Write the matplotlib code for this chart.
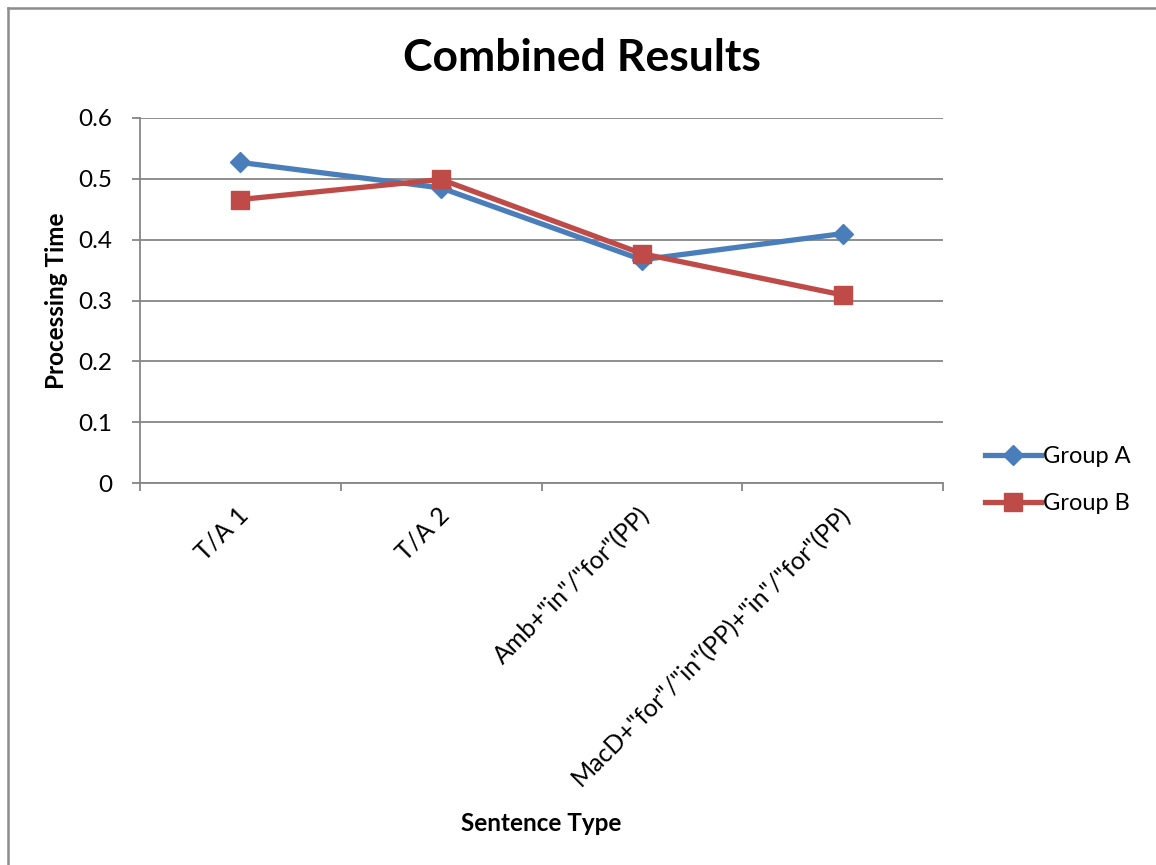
import matplotlib.pyplot as plt
from matplotlib.lines import Line2D
from matplotlib import transforms

plt.rcParams['font.family'] = ['Lato', 'DejaVu Sans']

# DATA
sentence_types = ['T/A 1', 'T/A 2', 'Amb+"in"/"for"(PP)', 'MacD+"for"/"in"(PP)+"in"/"for"(PP)']
group_a = [0.527, 0.485, 0.367, 0.410]
group_b = [0.466, 0.499, 0.377, 0.309]
y_ticks = [0, 0.1, 0.2, 0.3, 0.4, 0.5, 0.6]

blue = '#4A7EBB'
red = '#BE4B48'
grid_col = '#868686'

fig = plt.figure(figsize=(11.56, 8.65), dpi=100)

# chart frame: only the left and top edges fall inside the image
frame_x = 7.5 / 1156
frame_y = 1 - 7.5 / 865
fig.lines.append(Line2D([frame_x, frame_x], [0, frame_y], transform=fig.transFigure,
                        color='#8c8c8c', linewidth=1.8))
fig.lines.append(Line2D([frame_x, 1], [frame_y, frame_y], transform=fig.transFigure,
                        color='#8c8c8c', linewidth=1.8))

ax = fig.add_axes([0.121, 0.4416, 0.695, 0.422])
x = list(range(len(sentence_types)))

ax.plot(x, group_a, color=blue, linewidth=3.8, marker='D', markersize=10,
        markeredgecolor=blue, label='Group A', zorder=3)
ax.plot(x, group_b, color=red, linewidth=3.8, marker='s', markersize=13,
        markeredgecolor=red, label='Group B', zorder=4)

ax.set_xlim(-0.5, 3.5)
ax.set_ylim(0, 0.6)
ax.set_yticks(y_ticks)
ax.set_yticklabels(['0', '0.1', '0.2', '0.3', '0.4', '0.5', '0.6'], fontsize=17.5)
ax.yaxis.grid(True, color=grid_col, linewidth=1.3)
ax.set_axisbelow(True)

for side in ['top', 'right']:
    ax.spines[side].set_visible(False)
for side in ['left', 'bottom']:
    ax.spines[side].set_color(grid_col)
    ax.spines[side].set_linewidth(1.3)

ax.tick_params(axis='y', length=6, width=1.3, color=grid_col, pad=14)
ax.tick_params(axis='x', length=6, width=1.3, color=grid_col)

# category boundary ticks below the axis, labels at category centres
ax.set_xticks([-0.5, 0.5, 1.5, 2.5, 3.5])
ax.set_xticklabels([])
shift = transforms.offset_copy(ax.get_xaxis_transform(), fig=fig, x=-4, y=-20, units='dots')
for xi, lab in zip(x, sentence_types):
    ax.text(xi, 0, lab, transform=shift, rotation=45, rotation_mode='anchor',
            ha='right', va='top', fontsize=18)

ax.set_ylabel('Processing Time', fontsize=17.5, fontweight='bold')
ax.yaxis.set_label_coords(-0.089, 0.5)
ax.set_xlabel('Sentence Type', fontsize=17.5, fontweight='bold')
ax.xaxis.set_label_coords(0.5, -0.9)
fig.suptitle('Combined Results', fontsize=32, fontweight='bold', x=0.5035, y=0.933, va='center')

handles = [Line2D([], [], color=blue, linewidth=3.8, marker='D', markersize=10),
           Line2D([], [], color=red, linewidth=3.8, marker='s', markersize=13)]
fig.legend(handles, ['Group A', 'Group B'], loc='center left', bbox_to_anchor=(0.834, 0.445),
           frameon=False, fontsize=17, handlelength=2.35, handletextpad=0.1, labelspacing=1.1)

fig.savefig('out.png', dpi=100)
